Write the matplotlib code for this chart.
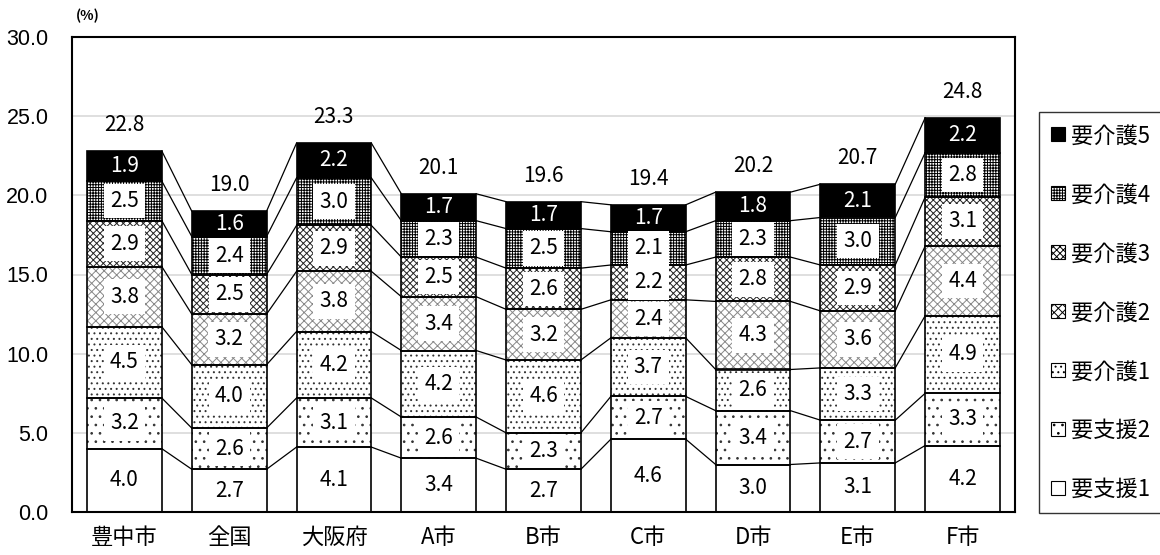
import matplotlib
matplotlib.use("Agg")
import matplotlib.pyplot as plt
import numpy as np
from matplotlib.patches import Patch

plt.rcParams['font.family'] = ['Noto Sans CJK JP', 'DejaVu Sans']
plt.rcParams['hatch.linewidth'] = 0.7

categories = ['豊中市', '全国', '大阪府', 'A市', 'B市', 'C市', 'D市', 'E市', 'F市']
series = ['要支援1', '要支援2', '要介護1', '要介護2', '要介護3', '要介護4', '要介護5']
shien1 = [4.0, 2.7, 4.1, 3.4, 2.7, 4.6, 3.0, 3.1, 4.2]
shien2 = [3.2, 2.6, 3.1, 2.6, 2.3, 2.7, 3.4, 2.7, 3.3]
kaigo1 = [4.5, 4.0, 4.2, 4.2, 4.6, 3.7, 2.6, 3.3, 4.9]
kaigo2 = [3.8, 3.2, 3.8, 3.4, 3.2, 2.4, 4.3, 3.6, 4.4]
kaigo3 = [2.9, 2.5, 2.9, 2.5, 2.6, 2.2, 2.8, 2.9, 3.1]
kaigo4 = [2.5, 2.4, 3.0, 2.3, 2.5, 2.1, 2.3, 3.0, 2.8]
kaigo5 = [1.9, 1.6, 2.2, 1.7, 1.7, 1.7, 1.8, 2.1, 2.2]
totals = [22.8, 19.0, 23.3, 20.1, 19.6, 19.4, 20.2, 20.7, 24.8]

values = [shien1, shien2, kaigo1, kaigo2, kaigo3, kaigo4, kaigo5]
# (塗り, ハッチ, ハッチの色)
styles = [
    ('white', '', 'black'),
    ('white', '..', '#333333'),
    ('white', '...', '#333333'),
    ('white', 'xxxx', '#888888'),
    ('white', 'xxxxx', '#222222'),
    ('white', '++++++', 'black'),
    ('black', '', 'black'),
]

fig = plt.figure(figsize=(11.6, 5.55), dpi=100)
ax = fig.add_axes([72 / 1160, 1 - 512 / 555, 943 / 1160, 475 / 555])

x = np.arange(len(categories))
w = 0.714
bottom = np.zeros(len(categories))
tops = []
for vals, (fc, hatch, hc) in zip(values, styles):
    vals = np.array(vals)
    ax.bar(x, vals, w, bottom=bottom, color=fc, hatch=hatch, edgecolor=hc, linewidth=0, zorder=2)
    ax.bar(x, vals, w, bottom=bottom, fill=False, edgecolor='black', linewidth=1.2, zorder=3)
    for xi, v, b in zip(x, vals, bottom):
        if fc == 'black':
            ax.text(xi, b + v / 2, f'{v:.1f}', ha='center', va='center', fontsize=15,
                    color='white', zorder=5,
                    bbox=dict(boxstyle='square,pad=0.1', fc='black', ec='none'))
        else:
            ax.text(xi, b + v / 2, f'{v:.1f}', ha='center', va='center', fontsize=15,
                    color='black', zorder=4,
                    bbox=dict(boxstyle='square,pad=0.3', fc='white', ec='none'))
    bottom = bottom + vals
    tops.append(bottom.copy())

# 系列線
for t in tops:
    for i in range(len(categories) - 1):
        ax.plot([x[i] + w / 2, x[i + 1] - w / 2], [t[i], t[i + 1]], color='black',
                linewidth=0.9, zorder=1)

for xi, tot, t in zip(x, totals, tops[-1]):
    ax.text(xi, t + 1.65, f'{tot:.1f}', ha='center', va='center', fontsize=15)

ax.set_xlim(-0.5, len(categories) - 0.5)
ax.set_ylim(0, 30)
yt = np.arange(0, 30.1, 5)
ax.set_yticks(yt)
ax.set_yticklabels([f'{v:.1f}' for v in yt], fontsize=15.5, family='Liberation Sans')
ax.set_xticks(x)
ax.set_xticklabels(categories, fontsize=16)
ax.tick_params(axis='y', length=0, pad=17)
ax.tick_params(axis='x', length=0, pad=10)
ax.yaxis.grid(True, color='#d9d9d9', linewidth=1.2, zorder=0)
ax.set_axisbelow(True)
for s in ax.spines.values():
    s.set_color('black')
    s.set_linewidth(1.5)

fig.text(76 / 1160, 1 - 16 / 555, '(%)', fontsize=10, ha='left', va='center',
         weight='bold')

handles = []
for name, (fc, hatch, hc) in zip(series, styles):
    handles.append(Patch(facecolor=fc, hatch=hatch, edgecolor='black', linewidth=0.8,
                         label=name))
leg = fig.legend(handles[::-1], series[::-1], loc='upper left',
                 bbox_to_anchor=(1039 / 1160, 1 - 112 / 555), fontsize=16,
                 frameon=True, fancybox=False, edgecolor='black', labelspacing=1.62,
                 handlelength=0.6, handleheight=0.6, handletextpad=0.3,
                 borderpad=0.55, borderaxespad=0)
leg.get_frame().set_linewidth(1.0)

fig.savefig('out.png', dpi=100)
